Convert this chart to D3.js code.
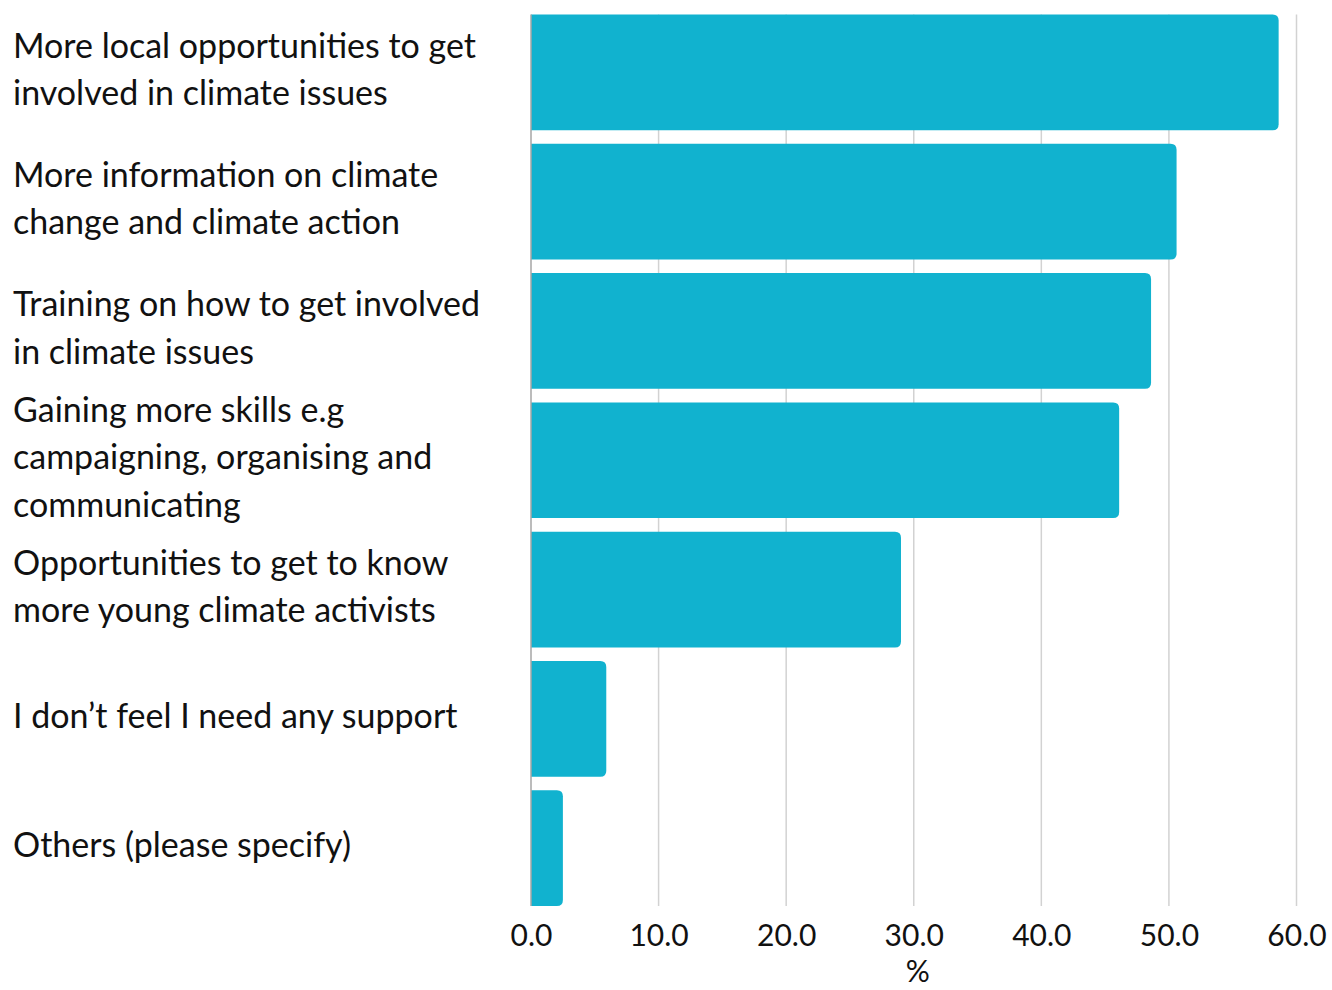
<!DOCTYPE html>
<html>
<head>
<meta charset="utf-8">
<script src="https://cdn.jsdelivr.net/npm/d3@7"></script>
<style>
  body { margin: 0; background: #fff; }
  svg { display: block; }
  text { font-family: Lato, "Noto Sans", sans-serif; fill: #111; }
</style>
</head>
<body>
<svg id="chart" width="1332" height="990"></svg>
<script>
// Survey answers: what support would help you take climate action (% of respondents)
const labelLines = [
  ["More local opportunities to get", "involved in climate issues"],
  ["More information on climate", "change and climate action"],
  ["Training on how to get involved", "in climate issues"],
  ["Gaining more skills e.g", "campaigning, organising and", "communicating"],
  ["Opportunities to get to know", "more young climate activists"],
  ["I don\u2019t feel I need any support"],
  ["Others (please specify)"]
];
const categories = labelLines.map(l => l.join(" "));
const values = [58.6, 50.6, 48.6, 46.1, 29.0, 5.9, 2.5];
const tickValues = [0, 10, 20, 30, 40, 50, 60];
const axisTitle = "%";

const svg = d3.select("#chart");
const plotLeft = 531, plotRight = 1296.5, plotTop = 14.5, plotBottom = 906;

const x = d3.scaleLinear().domain([0, 60]).range([plotLeft, plotRight]);
const y = d3.scaleBand().domain(categories).range([plotTop, plotBottom])
  .paddingInner(0.105).paddingOuter(0);

// vertical gridlines
svg.append("g").selectAll("line")
  .data(tickValues.filter(d => d > 0))
  .join("line")
  .attr("x1", d => x(d)).attr("x2", d => x(d))
  .attr("y1", plotTop).attr("y2", plotBottom)
  .attr("stroke", "#d2d2d2").attr("stroke-width", 1.5);

// bars with rounded right end
const r = 6;
function barPath(d, i) {
  const x0 = x(0), x1 = x(values[i]), y0 = y(categories[i]), h = y.bandwidth();
  const rr = Math.min(r, (x1 - x0) / 2);
  return `M${x0},${y0}H${x1 - rr}Q${x1},${y0} ${x1},${y0 + rr}V${y0 + h - rr}Q${x1},${y0 + h} ${x1 - rr},${y0 + h}H${x0}Z`;
}
svg.append("g").selectAll("path")
  .data(categories)
  .join("path")
  .attr("d", barPath)
  .attr("fill", "#11b2cf");

// baseline at zero
svg.append("line")
  .attr("x1", x(0)).attr("x2", x(0))
  .attr("y1", plotTop).attr("y2", plotBottom)
  .attr("stroke", "#a6a6a6").attr("stroke-width", 1.5);

// x axis
const fsTick = 30;
const xAxis = d3.axisBottom(x).tickValues(tickValues).tickFormat(d3.format(".1f"))
  .tickSize(0).tickPadding(19);
const gx = svg.append("g").attr("transform", `translate(0,${plotBottom})`).call(xAxis);
gx.select(".domain").remove();
gx.selectAll("text").style("font-size", fsTick + "px").attr("fill", "#111");

svg.append("text")
  .attr("x", (plotLeft + plotRight) / 2 + 4).attr("y", 982)
  .attr("text-anchor", "middle")
  .style("font-size", "30px")
  .text(axisTitle);

// category labels, wrapped
const fsLabel = 34, lineH = 47.5;
const lg = svg.append("g");
labelLines.forEach((lines, i) => {
  const cy = y(categories[i]) + y.bandwidth() / 2;
  const first = cy - (lines.length - 1) * lineH / 2 + 0.35 * fsLabel - 3;
  const t = lg.append("text").attr("x", 13).style("font-size", fsLabel + "px");
  lines.forEach((ln, j) => {
    t.append("tspan").attr("x", 13).attr("y", first + j * lineH).text(ln);
  });
});
</script>
</body>
</html>
